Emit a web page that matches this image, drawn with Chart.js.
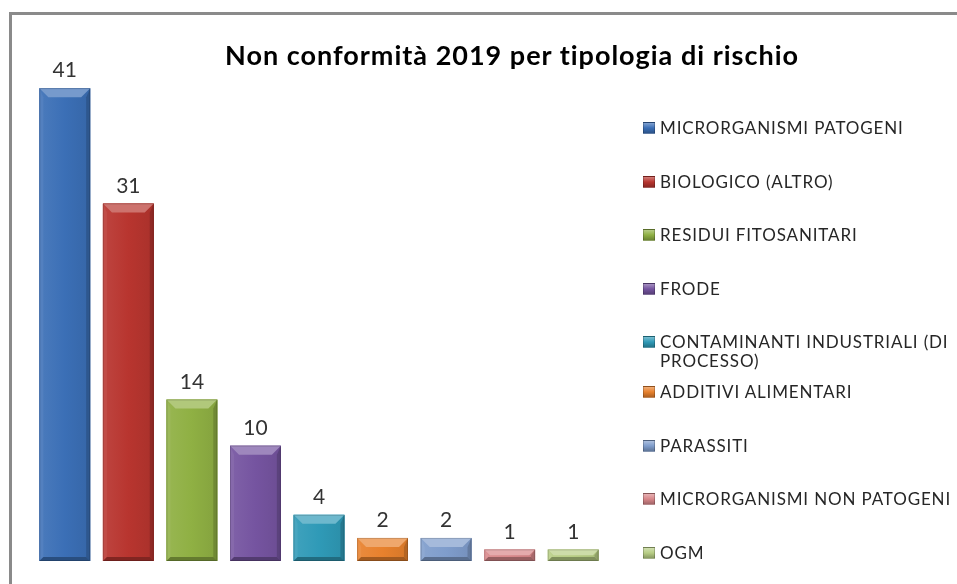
<!DOCTYPE html>
<html>
<head>
<meta charset="utf-8">
<script src="https://cdn.jsdelivr.net/npm/chart.js@4"></script>
<style>
  html, body { margin: 0; padding: 0; background: #fff; }
  #wrap { position: relative; width: 957px; height: 584px; overflow: hidden; font-family: Lato, 'Open Sans', sans-serif; }
  #frame { position: absolute; left: 9px; top: 12px; width: 1000px; height: 1000px; border-top: 3px solid #8a8a8a; border-left: 3px solid #8a8a8a; box-sizing: border-box; }
  #title { position: absolute; top: 38px; left: 225px; font-weight: bold; font-size: 27px; letter-spacing: 1px; color: #000; white-space: nowrap; }
  #legend { position: absolute; left: 643px; top: 118px; width: 316px; list-style: none; margin: 0; padding: 0; font-size: 17px; letter-spacing: 0.85px; color: #262626; }
  #legend li { position: relative; padding-left: 17px; line-height: 19px; margin-bottom: 34.5px; }
  #legend li.wrapped { margin-bottom: 12px; }
  #legend span { position: absolute; left: 0; top: 4px; width: 12px; height: 12px; box-sizing: border-box; border: 1px solid rgba(0,0,0,0.2); }
  canvas { position: absolute; left: 0; top: 0; }
</style>
</head>
<body>
<div id="wrap">
  <div id="frame"></div>
  <canvas id="chart" width="957" height="584"></canvas>
  <div id="title">Non conformità 2019 per tipologia di rischio</div>
  <ul id="legend"></ul>
</div>
<script>
// categories + values
const categories = [
    'MICRORGANISMI PATOGENI',
    'BIOLOGICO (ALTRO)',
    'RESIDUI FITOSANITARI',
    'FRODE',
    'CONTAMINANTI INDUSTRIALI (DI PROCESSO)',
    'ADDITIVI ALIMENTARI',
    'PARASSITI',
    'MICRORGANISMI NON PATOGENI',
    'OGM'
];
const values = [41, 31, 14, 10, 4, 2, 2, 1, 1];
const colors = ['#3b6fb6', '#b8352f', '#8fb043', '#7554a0', '#2f9ab7', '#e8812d', '#7f9dcc', '#d8878a', '#b7cd84'];

// small helper to shade a hex colour
const shade = (hex, amt) => {
    const n = parseInt(hex.slice(1), 16);
    let r = (n >> 16) & 255, g = (n >> 8) & 255, b = n & 255;
    const f = v => Math.max(0, Math.min(255, Math.round(amt > 0 ? v + (255 - v) * amt : v * (1 + amt))));
    return `rgb(${f(r)},${f(g)},${f(b)})`;
};

// Legend (html, so the long entry can wrap like the original)
const legendUI = document.getElementById('legend');
categories.forEach((c, i) => {
    const li = document.createElement('li');
    if (c.length > 30) li.className = 'wrapped';
    const sw = document.createElement('span');
    sw.style.background = `linear-gradient(${shade(colors[i], 0.35)}, ${colors[i]} 50%, ${shade(colors[i], -0.25)})`;
    li.appendChild(sw);
    li.appendChild(document.createTextNode(c));
    legendUI.appendChild(li);
});

// bevel look on every bar, drawn from the bar elements themselves
const bevelPlugin = {
    id: 'bevel',
    afterDatasetsDraw(chart) {
        const ctx = chart.ctx;
        chart.getDatasetMeta(0).data.forEach((bar, i) => {
            const l = bar.x - bar.width / 2, r = bar.x + bar.width / 2;
            const t = bar.y, b = bar.base;
            const h = b - t;
            const bv = Math.min(9, h / 2);
            const sv = Math.min(4, h / 2);
            const col = colors[i];
            ctx.save();
            // body gradient
            const g = ctx.createLinearGradient(l, 0, r, 0);
            g.addColorStop(0, shade(col, 0.08));
            g.addColorStop(0.5, col);
            g.addColorStop(1, shade(col, -0.08));
            ctx.fillStyle = g;
            ctx.fillRect(l, t, r - l, h);
            // top face
            ctx.fillStyle = shade(col, 0.3);
            ctx.beginPath();
            ctx.moveTo(l, t); ctx.lineTo(r, t); ctx.lineTo(r - bv, t + bv); ctx.lineTo(l + bv, t + bv);
            ctx.closePath(); ctx.fill();
            // left edge
            ctx.fillStyle = shade(col, 0.12);
            ctx.beginPath();
            ctx.moveTo(l, t); ctx.lineTo(l + sv, t + bv); ctx.lineTo(l + sv, b - sv); ctx.lineTo(l, b);
            ctx.closePath(); ctx.fill();
            // right edge
            ctx.fillStyle = shade(col, -0.22);
            ctx.beginPath();
            ctx.moveTo(r, t); ctx.lineTo(r - sv, t + bv); ctx.lineTo(r - sv, b - sv); ctx.lineTo(r, b);
            ctx.closePath(); ctx.fill();
            // bottom edge
            ctx.fillStyle = shade(col, -0.3);
            ctx.beginPath();
            ctx.moveTo(l, b); ctx.lineTo(l + sv, b - sv); ctx.lineTo(r - sv, b - sv); ctx.lineTo(r, b);
            ctx.closePath(); ctx.fill();
            ctx.strokeStyle = 'rgba(0,0,0,0.15)';
            ctx.lineWidth = 1;
            ctx.strokeRect(l + 0.5, t + 0.5, r - l - 1, h - 1);
            ctx.restore();
        });
    }
};

// value labels above bars
const valueLabels = {
    id: 'valueLabels',
    afterDatasetsDraw(chart) {
        const ctx = chart.ctx;
        ctx.save();
        ctx.font = "21px Lato, 'Open Sans', sans-serif";
        ctx.fillStyle = '#333';
        ctx.textAlign = 'center';
        ctx.textBaseline = 'bottom';
        chart.getDatasetMeta(0).data.forEach((bar, i) => {
            ctx.fillText(values[i], bar.x, bar.y - 7);
        });
        ctx.restore();
    }
};

new Chart(document.getElementById('chart'), {
    type: 'bar',
    data: {
        labels: categories,
        datasets: [{
            data: values,
            backgroundColor: colors,
            categoryPercentage: 0.8,
            barPercentage: 1
        }]
    },
    options: {
        responsive: false,
        animation: false,
        layout: { padding: { left: 33, right: 352, top: 42, bottom: 23 } },
        plugins: { legend: { display: false }, tooltip: { enabled: false } },
        scales: {
            x: { display: false },
            y: { display: false, min: 0, max: 45 }
        }
    },
    plugins: [bevelPlugin, valueLabels]
});
</script>
</body>
</html>
